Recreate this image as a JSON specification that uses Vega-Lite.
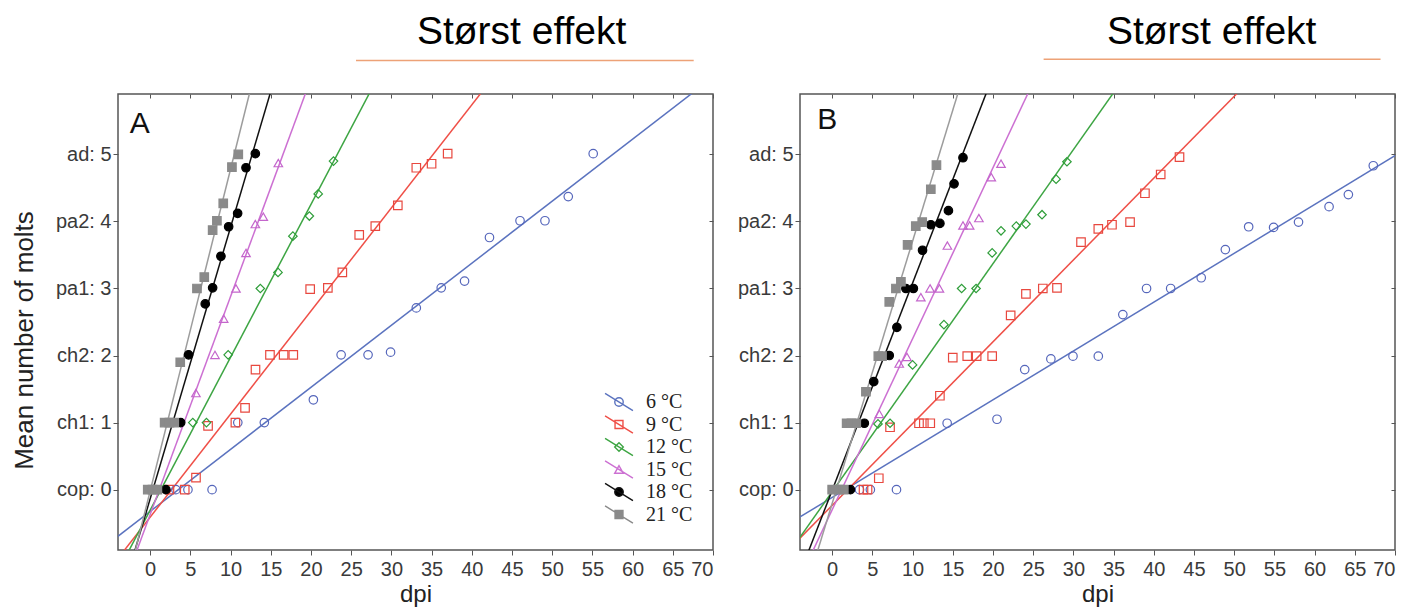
{
  "$schema": "https://vega.github.io/schema/vega-lite/v6.json",
  "background": "white",
  "padding": {"left": 10, "top": 12, "right": 10, "bottom": 5},
  "datasets": {
    "obs": [
      {"panel": "A", "temp": 6, "dpi": 3.2, "molts": 0}, {"panel": "A", "temp": 6, "dpi": 4.7, "molts": 0}, {"panel": "A", "temp": 6, "dpi": 7.7, "molts": 0},
      {"panel": "A", "temp": 6, "dpi": 10.9, "molts": 1}, {"panel": "A", "temp": 6, "dpi": 14.2, "molts": 1}, {"panel": "A", "temp": 6, "dpi": 20.3, "molts": 1.34},
      {"panel": "A", "temp": 6, "dpi": 23.75, "molts": 2.01}, {"panel": "A", "temp": 6, "dpi": 27.1, "molts": 2.01}, {"panel": "A", "temp": 6, "dpi": 29.9, "molts": 2.05},
      {"panel": "A", "temp": 6, "dpi": 33.1, "molts": 2.71}, {"panel": "A", "temp": 6, "dpi": 36.2, "molts": 3.01}, {"panel": "A", "temp": 6, "dpi": 39.1, "molts": 3.11},
      {"panel": "A", "temp": 6, "dpi": 42.2, "molts": 3.76}, {"panel": "A", "temp": 6, "dpi": 46.0, "molts": 4.01}, {"panel": "A", "temp": 6, "dpi": 49.1, "molts": 4.01},
      {"panel": "A", "temp": 6, "dpi": 52.0, "molts": 4.37}, {"panel": "A", "temp": 6, "dpi": 55.1, "molts": 5.01},
      {"panel": "A", "temp": 9, "dpi": 2.4, "molts": 0}, {"panel": "A", "temp": 9, "dpi": 4.3, "molts": 0}, {"panel": "A", "temp": 9, "dpi": 5.7, "molts": 0.18},
      {"panel": "A", "temp": 9, "dpi": 7.2, "molts": 0.95}, {"panel": "A", "temp": 9, "dpi": 10.6, "molts": 1.0}, {"panel": "A", "temp": 9, "dpi": 11.8, "molts": 1.22},
      {"panel": "A", "temp": 9, "dpi": 13.1, "molts": 1.79}, {"panel": "A", "temp": 9, "dpi": 14.9, "molts": 2.01}, {"panel": "A", "temp": 9, "dpi": 16.6, "molts": 2.01},
      {"panel": "A", "temp": 9, "dpi": 17.8, "molts": 2.01}, {"panel": "A", "temp": 9, "dpi": 19.9, "molts": 2.99}, {"panel": "A", "temp": 9, "dpi": 22.1, "molts": 3.01},
      {"panel": "A", "temp": 9, "dpi": 23.9, "molts": 3.24}, {"panel": "A", "temp": 9, "dpi": 26.0, "molts": 3.8}, {"panel": "A", "temp": 9, "dpi": 28.0, "molts": 3.93},
      {"panel": "A", "temp": 9, "dpi": 30.8, "molts": 4.24}, {"panel": "A", "temp": 9, "dpi": 33.1, "molts": 4.8}, {"panel": "A", "temp": 9, "dpi": 35.0, "molts": 4.86},
      {"panel": "A", "temp": 9, "dpi": 37.0, "molts": 5.01},
      {"panel": "A", "temp": 12, "dpi": 5.3, "molts": 1.0}, {"panel": "A", "temp": 12, "dpi": 7.0, "molts": 1.0}, {"panel": "A", "temp": 12, "dpi": 9.7, "molts": 2.01},
      {"panel": "A", "temp": 12, "dpi": 13.7, "molts": 3.0}, {"panel": "A", "temp": 12, "dpi": 15.9, "molts": 3.24}, {"panel": "A", "temp": 12, "dpi": 17.75, "molts": 3.78},
      {"panel": "A", "temp": 12, "dpi": 19.8, "molts": 4.08}, {"panel": "A", "temp": 12, "dpi": 20.9, "molts": 4.41}, {"panel": "A", "temp": 12, "dpi": 22.8, "molts": 4.9},
      {"panel": "A", "temp": 15, "dpi": 5.69, "molts": 1.44}, {"panel": "A", "temp": 15, "dpi": 8.06, "molts": 2.01}, {"panel": "A", "temp": 15, "dpi": 9.14, "molts": 2.55},
      {"panel": "A", "temp": 15, "dpi": 10.67, "molts": 3.0}, {"panel": "A", "temp": 15, "dpi": 11.92, "molts": 3.53}, {"panel": "A", "temp": 15, "dpi": 13.08, "molts": 3.96},
      {"panel": "A", "temp": 15, "dpi": 14.07, "molts": 4.07}, {"panel": "A", "temp": 15, "dpi": 15.94, "molts": 4.87},
      {"panel": "A", "temp": 18, "dpi": 1.96, "molts": 0}, {"panel": "A", "temp": 18, "dpi": 3.8, "molts": 1.0}, {"panel": "A", "temp": 18, "dpi": 4.78, "molts": 2.01},
      {"panel": "A", "temp": 18, "dpi": 6.85, "molts": 2.77}, {"panel": "A", "temp": 18, "dpi": 7.77, "molts": 3.01}, {"panel": "A", "temp": 18, "dpi": 8.8, "molts": 3.48},
      {"panel": "A", "temp": 18, "dpi": 9.76, "molts": 3.92}, {"panel": "A", "temp": 18, "dpi": 10.88, "molts": 4.12}, {"panel": "A", "temp": 18, "dpi": 11.92, "molts": 4.8},
      {"panel": "A", "temp": 18, "dpi": 13.08, "molts": 5.01},
      {"panel": "A", "temp": 21, "dpi": -0.3, "molts": 0}, {"panel": "A", "temp": 21, "dpi": 0.3, "molts": 0}, {"panel": "A", "temp": 21, "dpi": 0.9, "molts": 0},
      {"panel": "A", "temp": 21, "dpi": 1.8, "molts": 1.0}, {"panel": "A", "temp": 21, "dpi": 2.4, "molts": 1.0}, {"panel": "A", "temp": 21, "dpi": 3.0, "molts": 1.0},
      {"panel": "A", "temp": 21, "dpi": 3.74, "molts": 1.9}, {"panel": "A", "temp": 21, "dpi": 5.82, "molts": 3.0}, {"panel": "A", "temp": 21, "dpi": 6.73, "molts": 3.17},
      {"panel": "A", "temp": 21, "dpi": 7.77, "molts": 3.87}, {"panel": "A", "temp": 21, "dpi": 8.3, "molts": 4.01}, {"panel": "A", "temp": 21, "dpi": 9.09, "molts": 4.27},
      {"panel": "A", "temp": 21, "dpi": 10.17, "molts": 4.81}, {"panel": "A", "temp": 21, "dpi": 10.96, "molts": 5.0},

      {"panel": "B", "temp": 6, "dpi": 3.4, "molts": 0}, {"panel": "B", "temp": 6, "dpi": 4.75, "molts": 0}, {"panel": "B", "temp": 6, "dpi": 8.0, "molts": 0},
      {"panel": "B", "temp": 6, "dpi": 14.3, "molts": 0.99}, {"panel": "B", "temp": 6, "dpi": 20.5, "molts": 1.05}, {"panel": "B", "temp": 6, "dpi": 23.95, "molts": 1.79},
      {"panel": "B", "temp": 6, "dpi": 27.2, "molts": 1.95}, {"panel": "B", "temp": 6, "dpi": 29.95, "molts": 1.99}, {"panel": "B", "temp": 6, "dpi": 33.1, "molts": 1.99},
      {"panel": "B", "temp": 6, "dpi": 36.15, "molts": 2.61}, {"panel": "B", "temp": 6, "dpi": 39.1, "molts": 3.0}, {"panel": "B", "temp": 6, "dpi": 42.1, "molts": 3.0},
      {"panel": "B", "temp": 6, "dpi": 45.9, "molts": 3.16}, {"panel": "B", "temp": 6, "dpi": 48.9, "molts": 3.58}, {"panel": "B", "temp": 6, "dpi": 51.8, "molts": 3.92},
      {"panel": "B", "temp": 6, "dpi": 54.9, "molts": 3.91}, {"panel": "B", "temp": 6, "dpi": 58.0, "molts": 3.99}, {"panel": "B", "temp": 6, "dpi": 61.8, "molts": 4.22},
      {"panel": "B", "temp": 6, "dpi": 64.2, "molts": 4.4}, {"panel": "B", "temp": 6, "dpi": 67.3, "molts": 4.83},
      {"panel": "B", "temp": 9, "dpi": 3.9, "molts": 0}, {"panel": "B", "temp": 9, "dpi": 4.4, "molts": 0}, {"panel": "B", "temp": 9, "dpi": 5.8, "molts": 0.17},
      {"panel": "B", "temp": 9, "dpi": 7.2, "molts": 0.93}, {"panel": "B", "temp": 9, "dpi": 10.8, "molts": 0.99}, {"panel": "B", "temp": 9, "dpi": 11.4, "molts": 0.99},
      {"panel": "B", "temp": 9, "dpi": 12.2, "molts": 0.99}, {"panel": "B", "temp": 9, "dpi": 13.4, "molts": 1.4}, {"panel": "B", "temp": 9, "dpi": 15.0, "molts": 1.97},
      {"panel": "B", "temp": 9, "dpi": 16.8, "molts": 1.99}, {"panel": "B", "temp": 9, "dpi": 17.97, "molts": 1.99}, {"panel": "B", "temp": 9, "dpi": 19.9, "molts": 1.99},
      {"panel": "B", "temp": 9, "dpi": 22.2, "molts": 2.6}, {"panel": "B", "temp": 9, "dpi": 24.1, "molts": 2.92}, {"panel": "B", "temp": 9, "dpi": 26.2, "molts": 3.0},
      {"panel": "B", "temp": 9, "dpi": 27.96, "molts": 3.01}, {"panel": "B", "temp": 9, "dpi": 30.95, "molts": 3.69}, {"panel": "B", "temp": 9, "dpi": 33.1, "molts": 3.89},
      {"panel": "B", "temp": 9, "dpi": 34.8, "molts": 3.95}, {"panel": "B", "temp": 9, "dpi": 37.05, "molts": 3.99}, {"panel": "B", "temp": 9, "dpi": 38.9, "molts": 4.42},
      {"panel": "B", "temp": 9, "dpi": 40.86, "molts": 4.7}, {"panel": "B", "temp": 9, "dpi": 43.2, "molts": 4.96},
      {"panel": "B", "temp": 12, "dpi": 5.7, "molts": 0.98}, {"panel": "B", "temp": 12, "dpi": 7.2, "molts": 0.99}, {"panel": "B", "temp": 12, "dpi": 10.0, "molts": 1.86},
      {"panel": "B", "temp": 12, "dpi": 13.9, "molts": 2.46}, {"panel": "B", "temp": 12, "dpi": 16.1, "molts": 3.0}, {"panel": "B", "temp": 12, "dpi": 17.9, "molts": 3.0},
      {"panel": "B", "temp": 12, "dpi": 19.9, "molts": 3.53}, {"panel": "B", "temp": 12, "dpi": 21.0, "molts": 3.86}, {"panel": "B", "temp": 12, "dpi": 22.9, "molts": 3.93},
      {"panel": "B", "temp": 12, "dpi": 24.1, "molts": 3.96}, {"panel": "B", "temp": 12, "dpi": 26.1, "molts": 4.1}, {"panel": "B", "temp": 12, "dpi": 27.85, "molts": 4.63},
      {"panel": "B", "temp": 12, "dpi": 29.2, "molts": 4.89},
      {"panel": "B", "temp": 15, "dpi": 5.86, "molts": 1.13}, {"panel": "B", "temp": 15, "dpi": 8.34, "molts": 1.88}, {"panel": "B", "temp": 15, "dpi": 9.3, "molts": 1.98},
      {"panel": "B", "temp": 15, "dpi": 11.03, "molts": 2.87}, {"panel": "B", "temp": 15, "dpi": 12.18, "molts": 3.0}, {"panel": "B", "temp": 15, "dpi": 13.34, "molts": 3.0},
      {"panel": "B", "temp": 15, "dpi": 14.33, "molts": 3.64}, {"panel": "B", "temp": 15, "dpi": 16.27, "molts": 3.94}, {"panel": "B", "temp": 15, "dpi": 17.1, "molts": 3.94},
      {"panel": "B", "temp": 15, "dpi": 18.25, "molts": 4.05}, {"panel": "B", "temp": 15, "dpi": 19.79, "molts": 4.66}, {"panel": "B", "temp": 15, "dpi": 21.0, "molts": 4.86},
      {"panel": "B", "temp": 18, "dpi": 2.27, "molts": 0}, {"panel": "B", "temp": 18, "dpi": 4.0, "molts": 0.99}, {"panel": "B", "temp": 18, "dpi": 5.17, "molts": 1.61},
      {"panel": "B", "temp": 18, "dpi": 7.1, "molts": 2.0}, {"panel": "B", "temp": 18, "dpi": 8.05, "molts": 2.42}, {"panel": "B", "temp": 18, "dpi": 9.17, "molts": 3.0},
      {"panel": "B", "temp": 18, "dpi": 10.1, "molts": 3.0}, {"panel": "B", "temp": 18, "dpi": 11.24, "molts": 3.57}, {"panel": "B", "temp": 18, "dpi": 12.27, "molts": 3.95},
      {"panel": "B", "temp": 18, "dpi": 13.4, "molts": 3.97}, {"panel": "B", "temp": 18, "dpi": 14.46, "molts": 4.16}, {"panel": "B", "temp": 18, "dpi": 15.16, "molts": 4.56},
      {"panel": "B", "temp": 18, "dpi": 16.27, "molts": 4.95},
      {"panel": "B", "temp": 21, "dpi": 0.0, "molts": 0}, {"panel": "B", "temp": 21, "dpi": 0.8, "molts": 0}, {"panel": "B", "temp": 21, "dpi": 1.45, "molts": 0},
      {"panel": "B", "temp": 21, "dpi": 1.8, "molts": 0.99}, {"panel": "B", "temp": 21, "dpi": 2.4, "molts": 0.99}, {"panel": "B", "temp": 21, "dpi": 3.0, "molts": 0.99},
      {"panel": "B", "temp": 21, "dpi": 4.2, "molts": 1.46}, {"panel": "B", "temp": 21, "dpi": 5.74, "molts": 1.99}, {"panel": "B", "temp": 21, "dpi": 6.2, "molts": 1.99},
      {"panel": "B", "temp": 21, "dpi": 7.1, "molts": 2.8}, {"panel": "B", "temp": 21, "dpi": 7.93, "molts": 3.0}, {"panel": "B", "temp": 21, "dpi": 8.55, "molts": 3.1},
      {"panel": "B", "temp": 21, "dpi": 9.38, "molts": 3.65}, {"panel": "B", "temp": 21, "dpi": 10.4, "molts": 3.93}, {"panel": "B", "temp": 21, "dpi": 11.2, "molts": 3.99},
      {"panel": "B", "temp": 21, "dpi": 12.27, "molts": 4.48}, {"panel": "B", "temp": 21, "dpi": 12.97, "molts": 4.84}
    ],
    "fits": [
      {"panel": "A", "temp": 6, "dpi": -5, "molts": -0.787}, {"panel": "A", "temp": 6, "dpi": 75, "molts": 6.614},
      {"panel": "A", "temp": 9, "dpi": -5, "molts": -1.179}, {"panel": "A", "temp": 9, "dpi": 75, "molts": 11.118},
      {"panel": "A", "temp": 12, "dpi": -5, "molts": -1.446}, {"panel": "A", "temp": 12, "dpi": 75, "molts": 16.794},
      {"panel": "A", "temp": 15, "dpi": -5, "molts": -1.995}, {"panel": "A", "temp": 15, "dpi": 75, "molts": 24.005},
      {"panel": "A", "temp": 18, "dpi": -5, "molts": -2.162}, {"panel": "A", "temp": 18, "dpi": 75, "molts": 30.238},
      {"panel": "A", "temp": 21, "dpi": -5, "molts": -2.42}, {"panel": "A", "temp": 21, "dpi": 75, "molts": 35.98},
      {"panel": "B", "temp": 6, "dpi": -5, "molts": -0.48}, {"panel": "B", "temp": 6, "dpi": 75, "molts": 5.344},
      {"panel": "B", "temp": 9, "dpi": -5, "molts": -0.845}, {"panel": "B", "temp": 9, "dpi": 75, "molts": 8.915},
      {"panel": "B", "temp": 12, "dpi": -5, "molts": -0.88}, {"panel": "B", "temp": 12, "dpi": 75, "molts": 12.72},
      {"panel": "B", "temp": 15, "dpi": -5, "molts": -1.575}, {"panel": "B", "temp": 15, "dpi": 75, "molts": 18.825},
      {"panel": "B", "temp": 18, "dpi": -5, "molts": -1.555}, {"panel": "B", "temp": 18, "dpi": 75, "molts": 23.165},
      {"panel": "B", "temp": 21, "dpi": -5, "molts": -2.161}, {"panel": "B", "temp": 21, "dpi": 75, "molts": 29.119}
    ]
  },
  "config": {
    "view": {"stroke": "#555555", "strokeWidth": 1.5},
    "axis": {
      "domain": false, "grid": false, "ticks": true, "tickSize": 5, "tickColor": "#555555",
      "labelFont": "Liberation Sans", "labelFontSize": 20, "labelColor": "#3a3a3a",
      "titleFont": "Liberation Sans", "titleFontWeight": "normal", "titleColor": "#222222"
    },
    "axisX": {"titleFontSize": 24, "labelPadding": 4, "titlePadding": 3},
    "axisY": {"titleFontSize": 26, "labelPadding": 2, "titlePadding": 18},
    "legend": {"padding": 0, "title": null}
  },
  "spacing": 21,
  "resolve": {
    "scale": {"color": "independent", "stroke": "independent", "fill": "independent", "shape": "independent"},
    "legend": {"color": "independent", "stroke": "independent", "fill": "independent", "shape": "independent"}
  },
  "hconcat": [
    {
      "width": 595,
      "height": 456,
      "resolve": {
        "axis": {"x": "independent", "y": "independent"},
        "scale": {"stroke": "independent", "fill": "independent", "shape": "independent"},
        "legend": {"stroke": "independent", "fill": "independent", "shape": "independent"}
      },
      "layer": [
        {
          "data": {"name": "fits"},
          "transform": [{"filter": "datum.panel == 'A'"}],
          "mark": {"type": "line", "clip": true, "strokeWidth": 1.5},
          "encoding": {
            "x": {"field": "dpi", "type": "quantitative", "scale": {"domain": [-4, 70], "nice": false, "zero": false},
                  "axis": {"title": "dpi", "orient": "bottom", "values": [0, 5, 10, 15, 20, 25, 30, 35, 40, 45, 50, 55, 60, 65, 70]}},
            "y": {"field": "molts", "type": "quantitative", "scale": {"domain": [-0.9, 5.9], "nice": false, "zero": false},
                  "axis": {"title": "Mean number of molts", "orient": "left", "titleY": 246, "values": [0, 1, 2, 3, 4, 5],
                           "labelExpr": "['cop', 'ch1', 'ch2', 'pa1', 'pa2', 'ad'][datum.value] + ': ' + datum.value"}},
            "color": {"field": "temp", "type": "nominal",
                      "scale": {"range": ["#5b73bf", "#ef4f47", "#3da543", "#cc70d2", "#111111", "#9c9c9c"]},
                      "legend": null}
          }
        },
        {
          "data": {"name": "obs"},
          "transform": [{"filter": "datum.panel == 'A'"}],
          "mark": {"type": "point", "size": 72, "strokeWidth": 1.2, "opacity": 1},
          "encoding": {
            "x": {"field": "dpi", "type": "quantitative",
                  "axis": {"orient": "top", "title": null, "labels": false, "tickSize": -4,
                           "values": [0, 5, 10, 15, 20, 25, 30, 35, 40, 45, 50, 55, 60, 65, 70]}},
            "y": {"field": "molts", "type": "quantitative",
                  "axis": {"orient": "right", "title": null, "labels": false, "tickSize": -4,
                           "values": [0, 1, 2, 3, 4, 5]}},
            "stroke": {"field": "temp", "type": "nominal",
                       "scale": {"range": ["#5566bb", "#e8483f", "#2f9e3a", "#c466cc", "#000000", "#8a8a8a"]}, "legend": null},
            "fill": {"field": "temp", "type": "nominal",
                     "scale": {"range": ["transparent", "transparent", "transparent", "transparent", "#000000", "#8a8a8a"]}, "legend": null},
            "shape": {"field": "temp", "type": "nominal",
                      "scale": {"range": ["circle", "square", "diamond", "triangle-up", "circle", "square"]}, "legend": null}
          }
        },
        {
          "description": "Legend key: a sloped line through each series marker",
          "data": {"name": "obs"},
          "transform": [{"filter": "datum.panel == 'A'"}],
          "mark": {"type": "point", "size": 0, "strokeWidth": 1.4},
          "encoding": {
            "x": {"field": "dpi", "type": "quantitative", "axis": null},
            "y": {"field": "molts", "type": "quantitative", "axis": null},
            "stroke": {"field": "temp", "type": "nominal",
                       "scale": {"range": ["#5b73bf", "#ef4f47", "#3da543", "#cc70d2", "#111111", "#8a8a8a"]},
                       "legend": {"orient": "none", "legendX": 491, "legendY": 298, "title": null, "symbolSize": 324,
                                  "symbolStrokeWidth": 1.4, "symbolOpacity": 1, "labelExpr": "datum.label + ' °C'",
                                  "labelFont": "Liberation Serif", "labelFontSize": 20, "labelColor": "#222222",
                                  "labelOffset": 17, "rowPadding": -1.5, "padding": 0}},
            "fill": {"field": "temp", "type": "nominal",
                     "scale": {"range": ["transparent", "transparent", "transparent", "transparent", "#000000", "#8a8a8a"]},
                     "legend": {"orient": "none", "legendX": 491, "legendY": 298, "title": null, "symbolSize": 324,
                                "symbolStrokeWidth": 1.4, "symbolOpacity": 1, "labelExpr": "datum.label + ' °C'",
                                "labelFont": "Liberation Serif", "labelFontSize": 20, "labelColor": "#222222",
                                "labelOffset": 17, "rowPadding": -1.5, "padding": 0}},
            "shape": {"field": "temp", "type": "nominal",
                      "scale": {"range": [
                        "M-1.55,-0.95L1.55,0.95M0.47,0A0.47,0.47 0 1,1 -0.47,0A0.47,0.47 0 1,1 0.47,0Z",
                        "M-1.55,-0.95L1.55,0.95M-0.44,-0.44L0.44,-0.44L0.44,0.44L-0.44,0.44Z",
                        "M-1.55,-0.95L1.55,0.95M-0.48,0L0,-0.48L0.48,0L0,0.48Z",
                        "M-1.55,-0.95L1.55,0.95M0,-0.42L-0.48,0.42L0.48,0.42Z",
                        "M-1.55,-0.95L1.55,0.95M0.47,0A0.47,0.47 0 1,1 -0.47,0A0.47,0.47 0 1,1 0.47,0Z",
                        "M-1.55,-0.95L1.55,0.95M-0.44,-0.44L0.44,-0.44L0.44,0.44L-0.44,0.44Z"]},
                      "legend": {"orient": "none", "legendX": 491, "legendY": 298, "title": null, "symbolSize": 324,
                                 "symbolStrokeWidth": 1.4, "symbolOpacity": 1, "labelExpr": "datum.label + ' °C'",
                                 "labelFont": "Liberation Serif", "labelFontSize": 20, "labelColor": "#222222",
                                 "labelOffset": 17, "rowPadding": -1.5, "padding": 0}}
          }
        },
        {
          "data": {"values": [{}]},
          "mark": {"type": "text", "font": "Liberation Sans", "fontSize": 30, "align": "left", "baseline": "alphabetic", "color": "#111111"},
          "encoding": {"x": {"datum": -2.55, "axis": null}, "y": {"datum": 5.32, "axis": null}, "text": {"value": "A"}}
        },
        {
          "data": {"values": [{}]},
          "mark": {"type": "text", "font": "Liberation Sans", "fontSize": 39, "align": "center", "baseline": "alphabetic", "color": "#000000"},
          "encoding": {"x": {"datum": 46.2, "axis": null}, "y": {"datum": 6.64, "axis": null}, "text": {"value": "Størst effekt"}}
        },
        {
          "data": {"values": [{}]},
          "mark": {"type": "rule", "color": "#eda277", "strokeWidth": 1.5},
          "encoding": {"x": {"datum": 25.6, "axis": null}, "x2": {"datum": 67.6}, "y": {"datum": 6.4, "axis": null}}
        }
      ]
    },
    {
      "width": 595,
      "height": 456,
      "resolve": {"axis": {"x": "independent", "y": "independent"}},
      "layer": [
        {
          "data": {"name": "fits"},
          "transform": [{"filter": "datum.panel == 'B'"}],
          "mark": {"type": "line", "clip": true, "strokeWidth": 1.5},
          "encoding": {
            "x": {"field": "dpi", "type": "quantitative", "scale": {"domain": [-4, 70], "nice": false, "zero": false},
                  "axis": {"title": "dpi", "orient": "bottom", "values": [0, 5, 10, 15, 20, 25, 30, 35, 40, 45, 50, 55, 60, 65, 70]}},
            "y": {"field": "molts", "type": "quantitative", "scale": {"domain": [-0.9, 5.9], "nice": false, "zero": false},
                  "axis": {"title": null, "orient": "left", "values": [0, 1, 2, 3, 4, 5],
                           "labelExpr": "['cop', 'ch1', 'ch2', 'pa1', 'pa2', 'ad'][datum.value] + ': ' + datum.value"}},
            "color": {"field": "temp", "type": "nominal",
                      "scale": {"range": ["#5b73bf", "#ef4f47", "#3da543", "#cc70d2", "#111111", "#9c9c9c"]},
                      "legend": null}
          }
        },
        {
          "data": {"name": "obs"},
          "transform": [{"filter": "datum.panel == 'B'"}],
          "mark": {"type": "point", "size": 72, "strokeWidth": 1.2, "opacity": 1},
          "encoding": {
            "x": {"field": "dpi", "type": "quantitative",
                  "axis": {"orient": "top", "title": null, "labels": false, "tickSize": -4,
                           "values": [0, 5, 10, 15, 20, 25, 30, 35, 40, 45, 50, 55, 60, 65, 70]}},
            "y": {"field": "molts", "type": "quantitative",
                  "axis": {"orient": "right", "title": null, "labels": false, "tickSize": -4,
                           "values": [0, 1, 2, 3, 4, 5]}},
            "stroke": {"field": "temp", "type": "nominal",
                       "scale": {"range": ["#5566bb", "#e8483f", "#2f9e3a", "#c466cc", "#000000", "#8a8a8a"]}, "legend": null},
            "fill": {"field": "temp", "type": "nominal",
                     "scale": {"range": ["transparent", "transparent", "transparent", "transparent", "#000000", "#8a8a8a"]}, "legend": null},
            "shape": {"field": "temp", "type": "nominal",
                      "scale": {"range": ["circle", "square", "diamond", "triangle-up", "circle", "square"]}, "legend": null}
          }
        },
        {
          "data": {"values": [{}]},
          "mark": {"type": "text", "font": "Liberation Sans", "fontSize": 30, "align": "left", "baseline": "alphabetic", "color": "#111111"},
          "encoding": {"x": {"datum": -1.85, "axis": null}, "y": {"datum": 5.38, "axis": null}, "text": {"value": "B"}}
        },
        {
          "data": {"values": [{}]},
          "mark": {"type": "text", "font": "Liberation Sans", "fontSize": 39, "align": "center", "baseline": "alphabetic", "color": "#000000"},
          "encoding": {"x": {"datum": 47.2, "axis": null}, "y": {"datum": 6.64, "axis": null}, "text": {"value": "Størst effekt"}}
        },
        {
          "data": {"values": [{}]},
          "mark": {"type": "rule", "color": "#eda277", "strokeWidth": 1.5},
          "encoding": {"x": {"datum": 26.3, "axis": null}, "x2": {"datum": 68.2}, "y": {"datum": 6.42, "axis": null}}
        }
      ]
    }
  ]
}
